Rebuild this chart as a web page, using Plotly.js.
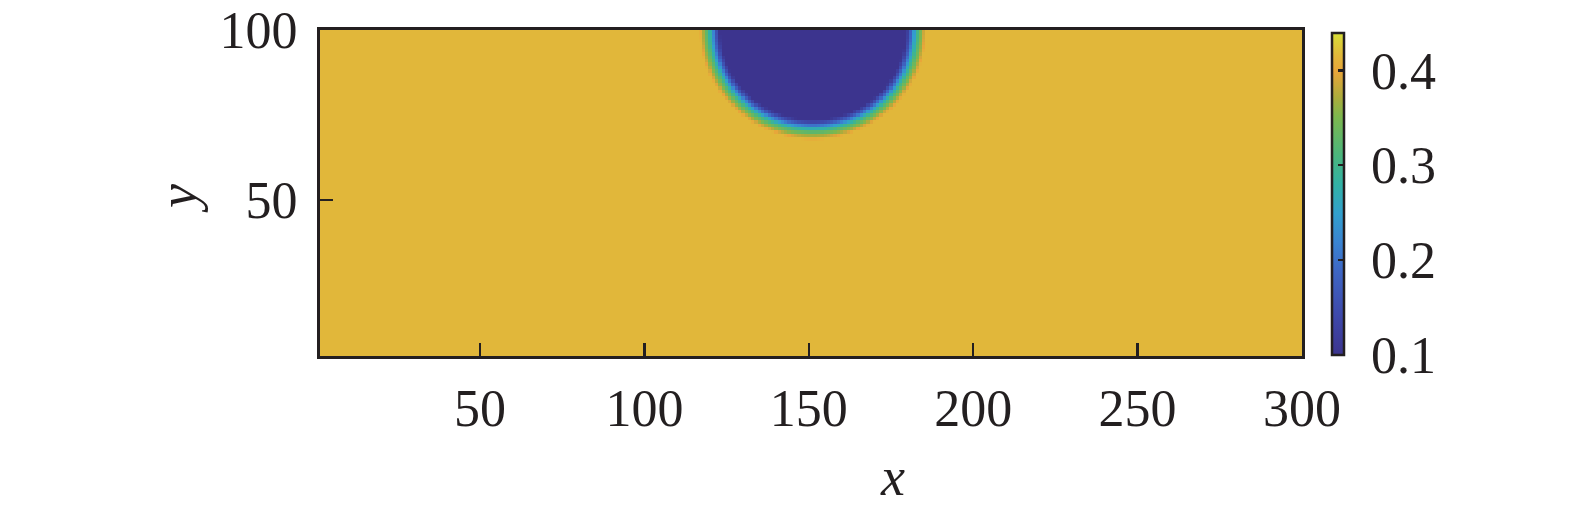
<!DOCTYPE html>
<html><head><meta charset="utf-8">
<script src="https://cdn.plot.ly/plotly-3.0.1.min.js"></script>
<style>html,body{margin:0;padding:0;background:#fff}</style>
</head><body><div id="chart" style="width:1575px;height:509px"></div>
<script>
// ---- data ----
const xTickVals = [50, 100, 150, 200, 250, 300];
const yTickVals = [50, 100];
const cbTickVals = [0.1, 0.2, 0.3, 0.4];
const cbTickText = ["0.1", "0.2", "0.3", "0.4"];
const gridNx = 300;            // cells along x (1..300)
const gridNy = 100;            // cells along y (1..100)
const dropCenter = [151.3, 100];   // centre of the low-value cap (x, y)
const dropSemiAxes = [31.0, 28.9]; // mid-transition contour semi-axes
// radial profile across the rim: offset from mid contour (data units) -> value
const rimOffset = [-2.6, -1.7, -0.8, 0.1, 1.0, 1.9, 2.7, 3.4];
const rimValue  = [0.10, 0.15, 0.21, 0.27, 0.32, 0.355, 0.39, 0.415];
const ambientValue = 0.415;
const cMin = 0.1, cMax = 0.44;

// ---- build field ----
function profile(s){
  const n = rimOffset.length;
  if (s <= rimOffset[0]) return rimValue[0];
  if (s >= rimOffset[n-1]) return ambientValue;
  for (let i=0;i<n-1;i++){
    if (s>=rimOffset[i] && s<=rimOffset[i+1]){
      const t=(s-rimOffset[i])/(rimOffset[i+1]-rimOffset[i]);
      return rimValue[i]+t*(rimValue[i+1]-rimValue[i]);
    }
  }
  return ambientValue;
}
const xs=[], ys=[], z=[];
for(let i=1;i<=gridNx;i++) xs.push(i);
for(let j=1;j<=gridNy;j++) ys.push(j);
const rMean=(dropSemiAxes[0]+dropSemiAxes[1])/2;
for(const y of ys){
  const row=[];
  for(const x of xs){
    const dx=(x-dropCenter[0])/dropSemiAxes[0];
    const dy=(y-dropCenter[1])/dropSemiAxes[1];
    const rho=Math.sqrt(dx*dx+dy*dy);
    row.push(profile((rho-1)*rMean));
  }
  z.push(row);
}

const colorscale = [
  [0.00, 'rgb(60,52,142)'],
  [0.12, 'rgb(62,72,170)'],
  [0.26, 'rgb(62,102,196)'],
  [0.35, 'rgb(58,132,210)'],
  [0.44, 'rgb(50,160,205)'],
  [0.53, 'rgb(50,178,165)'],
  [0.62, 'rgb(75,182,125)'],
  [0.74, 'rgb(125,183,78)'],
  [0.80, 'rgb(172,172,60)'],
  [0.88, 'rgb(232,165,58)'],
  [0.93, 'rgb(225,184,58)'],
  [1.00, 'rgb(215,222,55)']
];

const ink = '#231f20';
const serif = '"Liberation Serif", "Times New Roman", serif';
const tickFont = {family:serif, size:52, color:ink};
const pad = '\u2009\u200A';

const trace = {
  type:'heatmap', x:xs, y:ys, z:z, zsmooth:false,
  colorscale:colorscale, zmin:cMin, zmax:cMax,
  colorbar:{
    x:1.0305, xanchor:'left', xref:'paper',
    y:0.498, yanchor:'middle',
    thickness:12, thicknessmode:'pixels',
    len:322, lenmode:'pixels',
    outlinewidth:2.5, outlinecolor:ink,
    tickvals:cbTickVals, ticktext:cbTickText.map(t => pad + t),
    ticks:'inside', ticklen:7, tickwidth:2.5, tickcolor:ink,
    tickfont:tickFont, xpad:0, ypad:0
  },
  hoverinfo:'skip'
};

const layout = {
  width:1575, height:509,
  margin:{l:320, r:273, t:30, b:153, pad:0},
  paper_bgcolor:'#fff', plot_bgcolor:'#fff',
  xaxis:{range:[1.3,300], tickvals:xTickVals, ticks:'inside', ticklen:13, tickwidth:2.5, tickcolor:ink,
         showline:true, linewidth:3, linecolor:ink, mirror:true, showgrid:false, zeroline:false,
         tickfont:tickFont, ticklabelstandoff:5},
  yaxis:{range:[4,100], tickvals:yTickVals, ticks:'inside', ticklen:13, tickwidth:2.5, tickcolor:ink,
         showline:true, linewidth:3, linecolor:ink, mirror:true, showgrid:false, zeroline:false,
         tickfont:tickFont, ticklabelstandoff:9},
  annotations:[
    {text:'x', xref:'paper', yref:'paper', x:0.5825, y:-0.37, xanchor:'center', yanchor:'middle',
     showarrow:false, font:{family:serif, size:54, color:ink, style:'italic'}},
    {text:'y', xref:'paper', yref:'paper', x:-0.1446, y:0.4816, xanchor:'center', yanchor:'middle',
     textangle:-90, showarrow:false, font:{family:serif, size:54, color:ink, style:'italic'}}
  ]
};

Plotly.newPlot('chart',[trace],layout,{staticPlot:true, displayModeBar:false});
</script></body></html>
